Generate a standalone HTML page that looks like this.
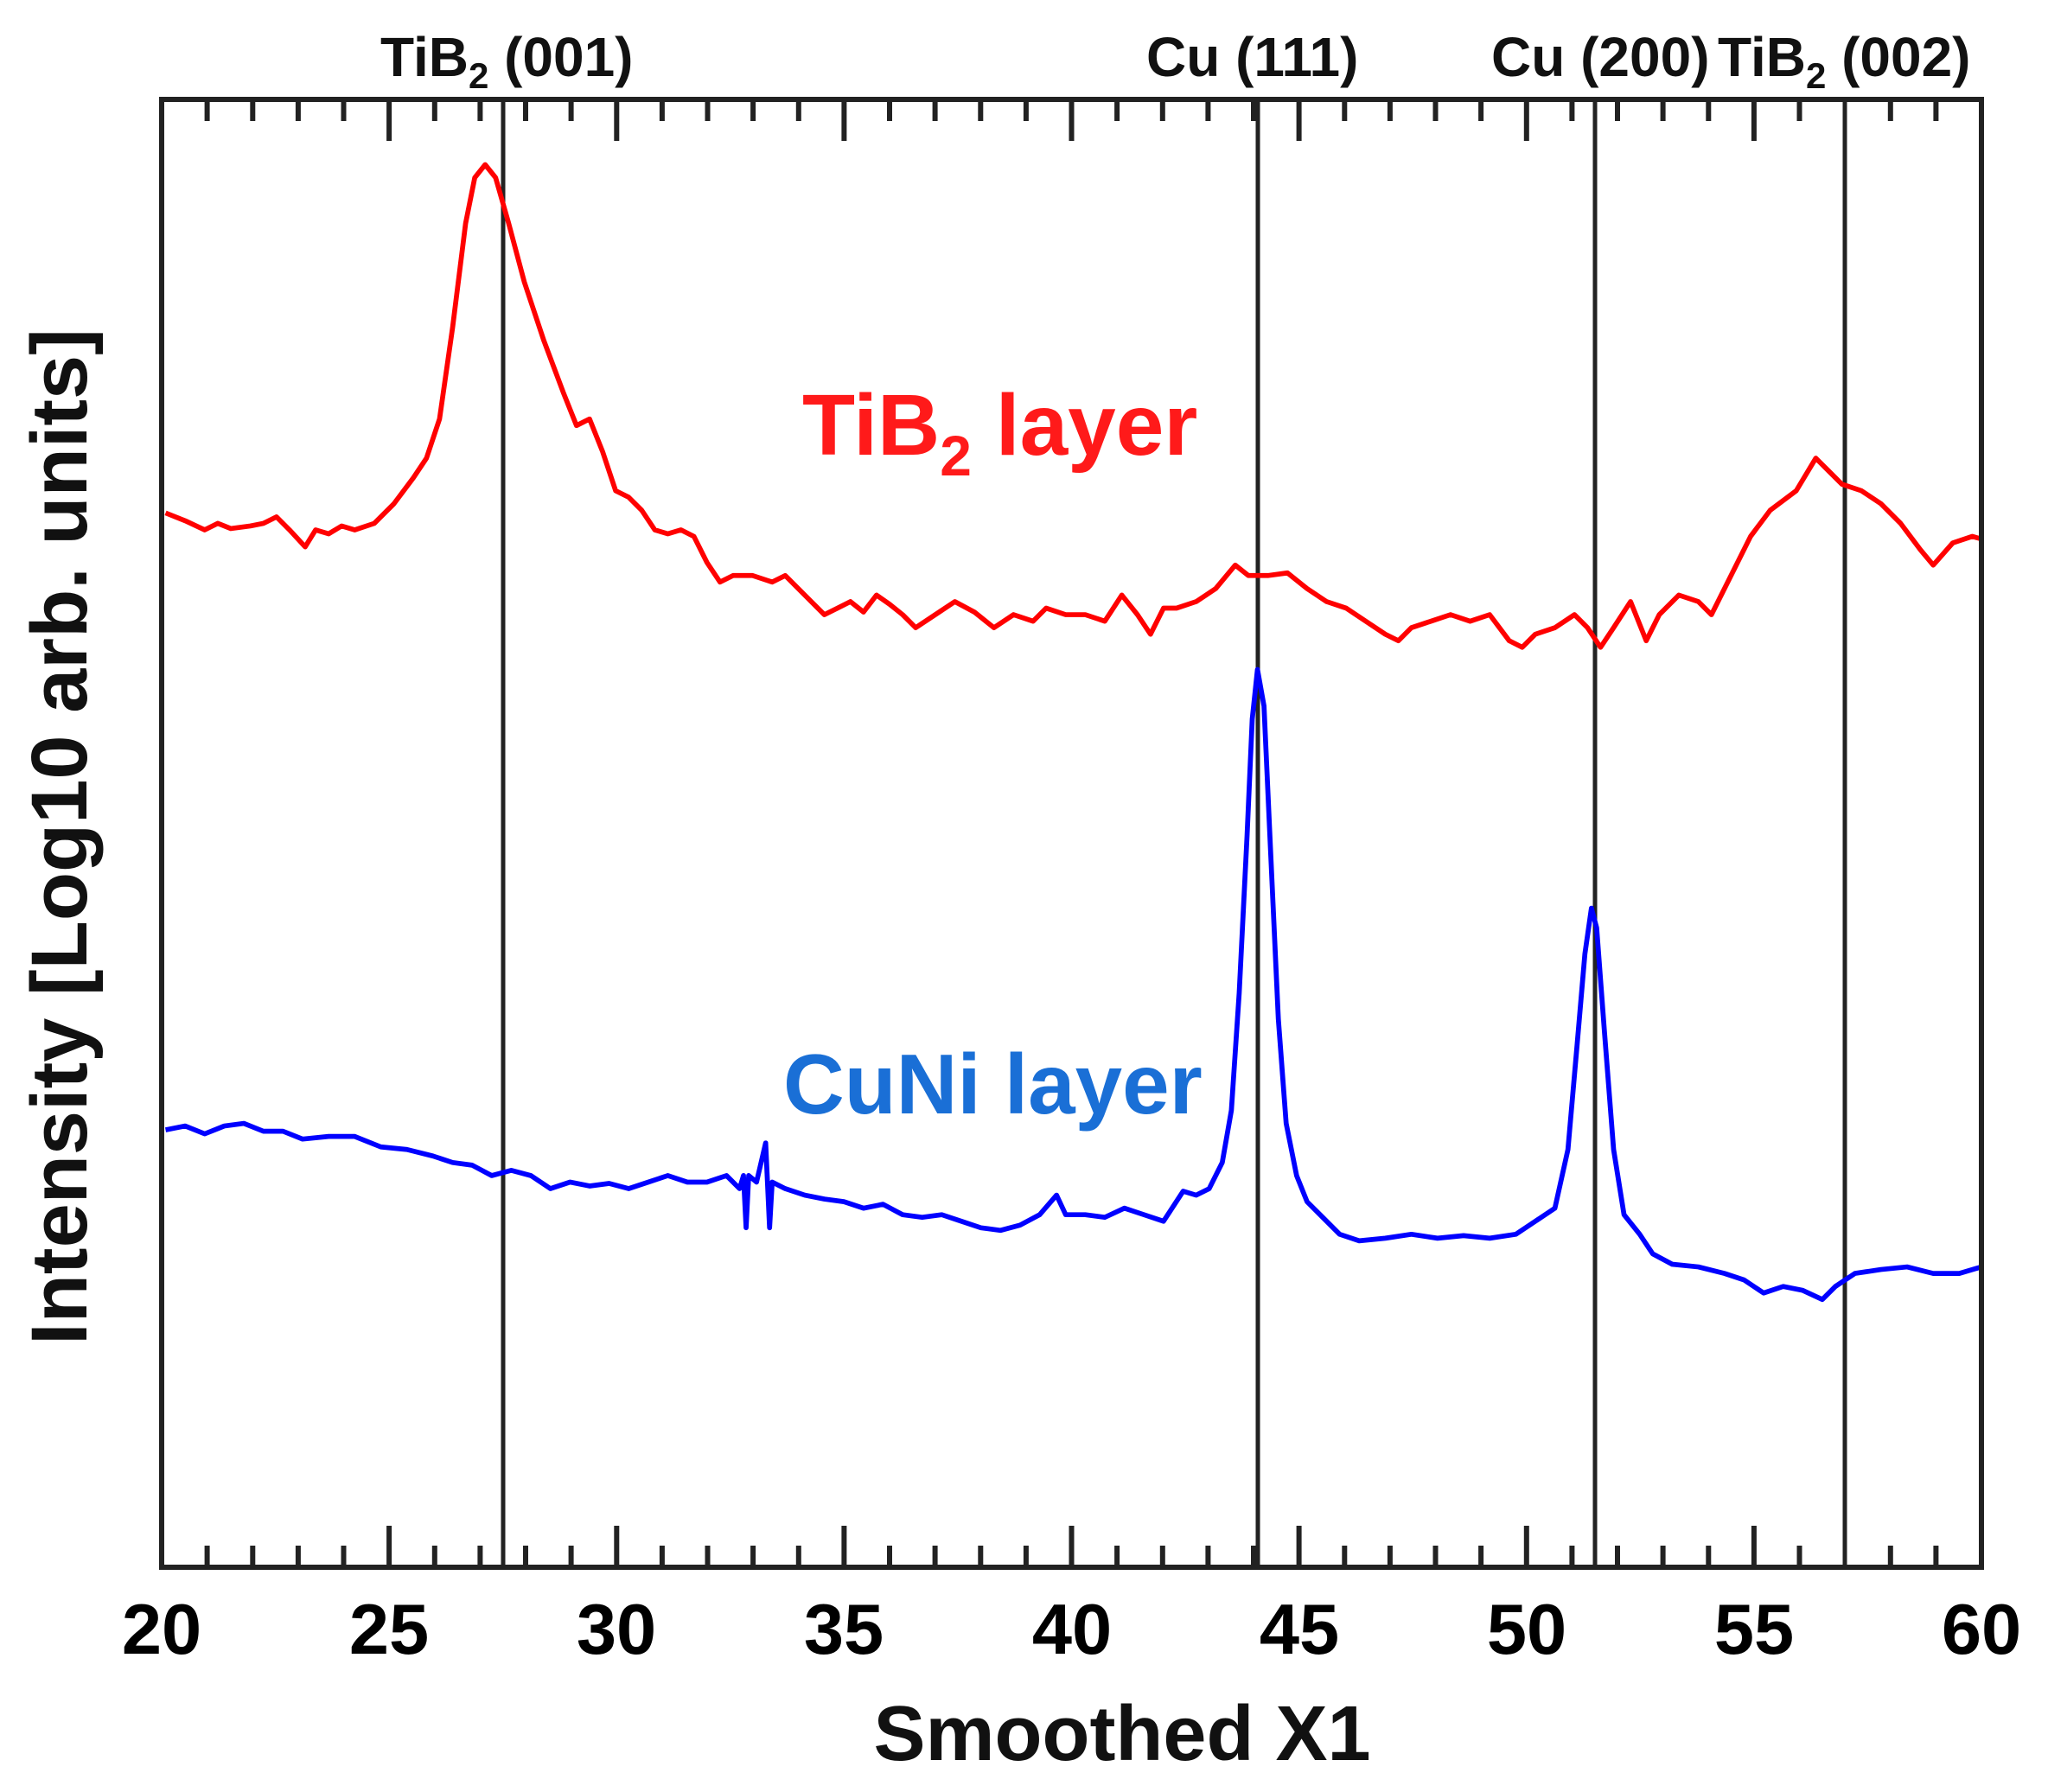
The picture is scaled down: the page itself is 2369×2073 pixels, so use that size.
<!DOCTYPE html>
<html><head><meta charset="utf-8"><style>html,body{margin:0;padding:0;background:#fff}svg{display:block}</style></head>
<body>
<svg width="2369" height="2073" viewBox="0 0 2369 2073" xmlns="http://www.w3.org/2000/svg" font-family="Liberation Sans, Arial, sans-serif" font-weight="bold">
<rect width="2369" height="2073" fill="#fff"/>
<g stroke="#222" stroke-width="6">
<line x1="187.0" y1="1813" x2="187.0" y2="1765"/><line x1="187.0" y1="115" x2="187.0" y2="163"/>
<line x1="239.6" y1="1813" x2="239.6" y2="1788"/><line x1="239.6" y1="115" x2="239.6" y2="140"/>
<line x1="292.3" y1="1813" x2="292.3" y2="1788"/><line x1="292.3" y1="115" x2="292.3" y2="140"/>
<line x1="344.9" y1="1813" x2="344.9" y2="1788"/><line x1="344.9" y1="115" x2="344.9" y2="140"/>
<line x1="397.5" y1="1813" x2="397.5" y2="1788"/><line x1="397.5" y1="115" x2="397.5" y2="140"/>
<line x1="450.1" y1="1813" x2="450.1" y2="1765"/><line x1="450.1" y1="115" x2="450.1" y2="163"/>
<line x1="502.8" y1="1813" x2="502.8" y2="1788"/><line x1="502.8" y1="115" x2="502.8" y2="140"/>
<line x1="555.4" y1="1813" x2="555.4" y2="1788"/><line x1="555.4" y1="115" x2="555.4" y2="140"/>
<line x1="608.0" y1="1813" x2="608.0" y2="1788"/><line x1="608.0" y1="115" x2="608.0" y2="140"/>
<line x1="660.6" y1="1813" x2="660.6" y2="1788"/><line x1="660.6" y1="115" x2="660.6" y2="140"/>
<line x1="713.3" y1="1813" x2="713.3" y2="1765"/><line x1="713.3" y1="115" x2="713.3" y2="163"/>
<line x1="765.9" y1="1813" x2="765.9" y2="1788"/><line x1="765.9" y1="115" x2="765.9" y2="140"/>
<line x1="818.5" y1="1813" x2="818.5" y2="1788"/><line x1="818.5" y1="115" x2="818.5" y2="140"/>
<line x1="871.1" y1="1813" x2="871.1" y2="1788"/><line x1="871.1" y1="115" x2="871.1" y2="140"/>
<line x1="923.8" y1="1813" x2="923.8" y2="1788"/><line x1="923.8" y1="115" x2="923.8" y2="140"/>
<line x1="976.4" y1="1813" x2="976.4" y2="1765"/><line x1="976.4" y1="115" x2="976.4" y2="163"/>
<line x1="1029.0" y1="1813" x2="1029.0" y2="1788"/><line x1="1029.0" y1="115" x2="1029.0" y2="140"/>
<line x1="1081.6" y1="1813" x2="1081.6" y2="1788"/><line x1="1081.6" y1="115" x2="1081.6" y2="140"/>
<line x1="1134.3" y1="1813" x2="1134.3" y2="1788"/><line x1="1134.3" y1="115" x2="1134.3" y2="140"/>
<line x1="1186.9" y1="1813" x2="1186.9" y2="1788"/><line x1="1186.9" y1="115" x2="1186.9" y2="140"/>
<line x1="1239.5" y1="1813" x2="1239.5" y2="1765"/><line x1="1239.5" y1="115" x2="1239.5" y2="163"/>
<line x1="1292.1" y1="1813" x2="1292.1" y2="1788"/><line x1="1292.1" y1="115" x2="1292.1" y2="140"/>
<line x1="1344.8" y1="1813" x2="1344.8" y2="1788"/><line x1="1344.8" y1="115" x2="1344.8" y2="140"/>
<line x1="1397.4" y1="1813" x2="1397.4" y2="1788"/><line x1="1397.4" y1="115" x2="1397.4" y2="140"/>
<line x1="1450.0" y1="1813" x2="1450.0" y2="1788"/><line x1="1450.0" y1="115" x2="1450.0" y2="140"/>
<line x1="1502.6" y1="1813" x2="1502.6" y2="1765"/><line x1="1502.6" y1="115" x2="1502.6" y2="163"/>
<line x1="1555.3" y1="1813" x2="1555.3" y2="1788"/><line x1="1555.3" y1="115" x2="1555.3" y2="140"/>
<line x1="1607.9" y1="1813" x2="1607.9" y2="1788"/><line x1="1607.9" y1="115" x2="1607.9" y2="140"/>
<line x1="1660.5" y1="1813" x2="1660.5" y2="1788"/><line x1="1660.5" y1="115" x2="1660.5" y2="140"/>
<line x1="1713.1" y1="1813" x2="1713.1" y2="1788"/><line x1="1713.1" y1="115" x2="1713.1" y2="140"/>
<line x1="1765.8" y1="1813" x2="1765.8" y2="1765"/><line x1="1765.8" y1="115" x2="1765.8" y2="163"/>
<line x1="1818.4" y1="1813" x2="1818.4" y2="1788"/><line x1="1818.4" y1="115" x2="1818.4" y2="140"/>
<line x1="1871.0" y1="1813" x2="1871.0" y2="1788"/><line x1="1871.0" y1="115" x2="1871.0" y2="140"/>
<line x1="1923.6" y1="1813" x2="1923.6" y2="1788"/><line x1="1923.6" y1="115" x2="1923.6" y2="140"/>
<line x1="1976.3" y1="1813" x2="1976.3" y2="1788"/><line x1="1976.3" y1="115" x2="1976.3" y2="140"/>
<line x1="2028.9" y1="1813" x2="2028.9" y2="1765"/><line x1="2028.9" y1="115" x2="2028.9" y2="163"/>
<line x1="2081.5" y1="1813" x2="2081.5" y2="1788"/><line x1="2081.5" y1="115" x2="2081.5" y2="140"/>
<line x1="2186.8" y1="1813" x2="2186.8" y2="1788"/><line x1="2186.8" y1="115" x2="2186.8" y2="140"/>
<line x1="2239.4" y1="1813" x2="2239.4" y2="1788"/><line x1="2239.4" y1="115" x2="2239.4" y2="140"/>
</g>
<g stroke="#222" stroke-width="5">
<line x1="582" y1="115" x2="582" y2="1813"/>
<line x1="1455" y1="115" x2="1455" y2="1813"/>
<line x1="1845" y1="115" x2="1845" y2="1813"/>
<line x1="2134" y1="115" x2="2134" y2="1813"/>
</g>
<g transform="translate(187 115) scale(1.509) translate(-122 -75)" fill="none" stroke-linejoin="round" stroke-width="3.8">
<polyline stroke="#ff0000" points="125,392 140,398 155,405 165,400 175,404 190,402 200,400 210,395 220,405 232,418 240,405 250,408 260,402 270,405 285,400 300,385 315,365 325,350 335,320 345,250 355,170 362,135 370,125 378,135 388,170 400,215 415,260 430,300 440,325 450,320 460,345 470,375 480,380 490,390 500,405 510,408 520,405 530,410 540,430 550,445 560,440 575,440 590,445 600,440 610,450 620,460 630,470 640,465 650,460 660,468 670,455 680,462 690,470 700,480 715,470 730,460 745,468 760,480 775,470 790,475 800,465 815,470 830,470 845,475 858,455 870,470 880,485 890,465 900,465 915,460 930,450 945,432 955,440 970,440 985,438 1000,450 1015,460 1030,465 1045,475 1060,485 1070,490 1080,480 1095,475 1110,470 1125,475 1140,470 1155,490 1165,495 1175,485 1190,480 1205,470 1215,480 1225,495 1235,480 1248,460 1260,490 1270,470 1285,455 1300,460 1310,470 1325,440 1340,410 1355,390 1375,375 1390,350 1400,360 1410,370 1425,375 1440,385 1455,400 1470,420 1480,432 1495,415 1510,410 1517,412"/>
<polyline stroke="#0000ff" points="125,865 140,862 155,868 170,862 185,860 200,866 215,866 230,872 250,870 270,870 290,878 310,880 330,885 345,890 360,892 375,900 390,896 405,900 420,910 435,905 450,908 465,906 480,910 495,905 510,900 525,905 540,905 555,900 565,910 568,900 570,940 572,900 578,905 585,875 588,940 590,905 600,910 615,915 630,918 645,920 660,925 675,922 690,930 705,932 720,930 735,935 750,940 765,942 780,938 795,930 808,915 815,930 830,930 845,932 860,925 875,930 890,935 905,912 915,915 925,910 935,890 942,850 948,760 954,640 958,550 962,512 967,540 972,650 978,780 984,860 992,900 1000,920 1010,930 1025,945 1040,950 1060,948 1080,945 1100,948 1120,946 1140,948 1160,945 1175,935 1190,925 1200,880 1207,800 1213,730 1218,695 1222,710 1228,790 1235,880 1243,930 1255,945 1265,960 1280,968 1300,970 1320,975 1335,980 1350,990 1365,985 1380,988 1395,995 1405,985 1420,975 1440,972 1460,970 1480,975 1500,975 1517,970"/>
</g>
<rect x="187" y="115" width="2105" height="1698" fill="none" stroke="#222" stroke-width="6"/>
<g font-size="83" text-anchor="middle" fill="#000">
<text x="187" y="1913">20</text><text x="450" y="1913">25</text><text x="713" y="1913">30</text><text x="976" y="1913">35</text><text x="1240" y="1913">40</text><text x="1503" y="1913">45</text><text x="1766" y="1913">50</text><text x="2029" y="1913">55</text><text x="2292" y="1913">60</text>
</g>
<text x="1298" y="2036" font-size="90" text-anchor="middle" fill="#111">Smoothed X1</text>
<text transform="translate(100 968) rotate(-90)" font-size="92" text-anchor="middle" fill="#111">Intensity [Log10 arb. units]</text>
<g font-size="64" fill="#111">
<text x="440" y="88">TiB<tspan font-size="42" dy="14">2</tspan><tspan dy="-14">  (001)</tspan></text>
<text x="1326" y="88">Cu (111)</text>
<text x="1725" y="88">Cu (200)</text>
<text x="1987" y="88">TiB<tspan font-size="42" dy="14">2</tspan><tspan dy="-14"> (002)</tspan></text>
</g>
<text x="928" y="526" font-size="100" fill="#ff1a1a">TiB<tspan font-size="66" dy="24">2</tspan><tspan dy="-24"> layer</tspan></text>
<text x="906" y="1288" font-size="98" fill="#1a6fd6">CuNi layer</text>
</svg>
</body></html>
